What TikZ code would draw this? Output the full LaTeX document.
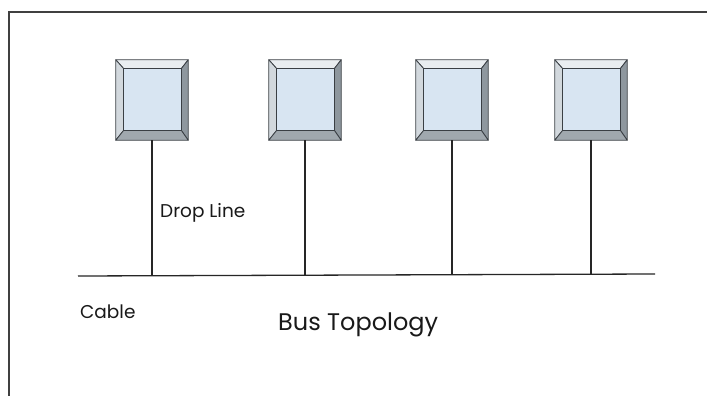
\documentclass[tikz,border=0pt]{standalone}
\usepackage{fontspec}
\setmainfont{Poppins}
\usetikzlibrary{calc}
\definecolor{facetop}{HTML}{E9EDF0}
\definecolor{faceleft}{HTML}{D2D8DD}
\definecolor{faceright}{HTML}{8E979E}
\definecolor{facebottom}{HTML}{A0A8AE}
\definecolor{screen}{HTML}{D8E5F2}
\definecolor{edge}{HTML}{3A3F44}
\begin{document}
\begin{tikzpicture}[x=1pt,y=-1pt,
  station/.style={minimum width=72pt,minimum height=80pt,inner sep=0pt,draw=none},
  wire/.style={line width=1.3pt,draw=black!85},
  face/.style={draw=edge,line width=0.8pt,line join=round},
  lbl/.style={font=\fontsize{18.5}{21}\selectfont,anchor=base west,inner sep=0pt,text=black!90},
  title/.style={font=\fontsize{24}{28}\selectfont,anchor=base west,inner sep=0pt,text=black!90}]
\useasboundingbox (0,0) rectangle (707,396);
\fill[white] (0,0) rectangle (707,396);
\draw[line width=1.5pt,black!75] (9,396) -- (9,12) -- (707,12);
\node[station] (s1) at (152,100) {};
\node[station] (s2) at (305,100) {};
\node[station] (s3) at (452,100) {};
\node[station] (s4) at (591,100) {};
\foreach \n in {s1,s2,s3,s4} {
  \coordinate (iNW) at ($(\n.north west)+(8,9)$);
  \coordinate (iNE) at ($(\n.north east)+(-7,9)$);
  \coordinate (iSE) at ($(\n.south east)+(-7,-10)$);
  \coordinate (iSW) at ($(\n.south west)+(8,-10)$);
  \filldraw[face,fill=facetop] (\n.north west) -- (\n.north east) -- (iNE) -- (iNW) -- cycle;
  \filldraw[face,fill=faceleft] (\n.north west) -- (iNW) -- (iSW) -- (\n.south west) -- cycle;
  \filldraw[face,fill=faceright] (\n.north east) -- (\n.south east) -- (iSE) -- (iNE) -- cycle;
  \filldraw[face,fill=facebottom] (\n.south west) -- (iSW) -- (iSE) -- (\n.south east) -- cycle;
  \filldraw[face,fill=screen] (iNW) rectangle (iSE);
}
\coordinate (busL) at (78,276);
\coordinate (busR) at (655,274);
\draw[wire] (busL) -- (busR);
\foreach \n in {s1,s2,s3,s4} {
  \draw[wire] (\n.south) -- (\n.south |- 0,275);
}
\node[lbl] (drop) at (160,217) {Drop Line};
\node[lbl] (cable) at (80,318) {Cable};
\node[title] (topo) at (278,330) {Bus Topology};
\end{tikzpicture}
\end{document}
